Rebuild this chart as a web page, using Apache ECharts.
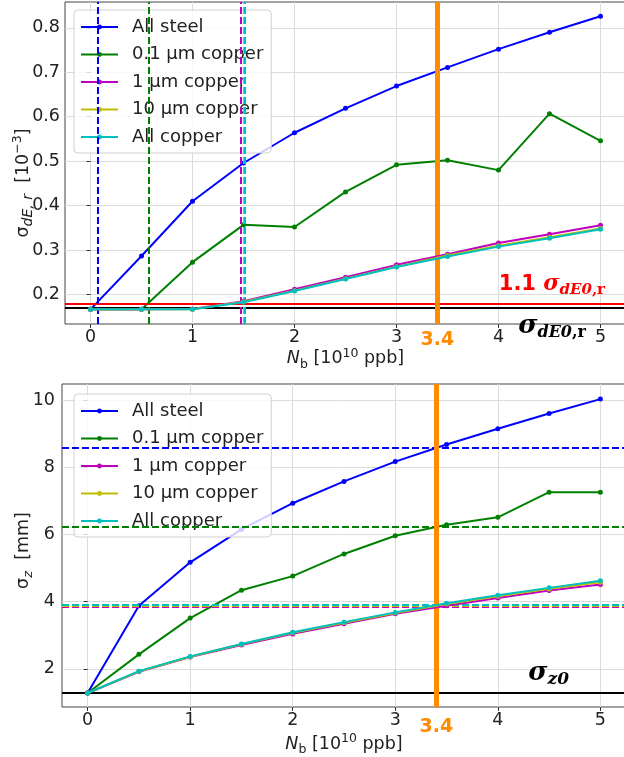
<!DOCTYPE html>
<html>
<head>
<meta charset="utf-8">
<script src="https://cdn.jsdelivr.net/npm/echarts@6/dist/echarts.min.js"></script>
<style>
  html, body { margin: 0; padding: 0; background: #fff; }
  #chart { width: 624px; height: 757px; }
</style>
</head>
<body>
<div id="chart"></div>
<script>
// bunch population N_b [1e10 ppb]
const nb = [0, 0.5, 1, 1.5, 2, 2.5, 3, 3.5, 4, 4.5, 5]
const names = ['All steel', '0.1 µm copper', '1 µm copper', '10 µm copper', 'All copper']
const colors = ['#0000ff', '#008000', '#bf00bf', '#bfbf00', '#00bfbf']

// top: energy spread [1e-3]
const steelDE = [0.167, 0.287, 0.410, 0.496, 0.564, 0.619, 0.669, 0.711, 0.752, 0.790, 0.826]
const cu01DE = [0.167, 0.167, 0.273, 0.357, 0.352, 0.431, 0.492, 0.502, 0.480, 0.607, 0.546]
const cu1DE = [0.167, 0.167, 0.168, 0.185, 0.212, 0.239, 0.267, 0.291, 0.316, 0.336, 0.356]
const cu10DE = [0.167, 0.167, 0.167, 0.184, 0.209, 0.236, 0.263, 0.288, 0.310, 0.329, 0.349]
const cuAllDE = [0.167, 0.167, 0.167, 0.183, 0.208, 0.235, 0.262, 0.286, 0.308, 0.327, 0.347]
const thrDE = [0.066, 0.575, 1.47, 1.50, 1.507] // where each curve crosses 1.1 sigma
const sigmaDE0 = 0.167
const sigmaDE0x11 = 0.1837

// bottom: bunch length [mm]
const steelZ = [1.28, 3.88, 5.17, 6.15, 6.93, 7.58, 8.17, 8.68, 9.15, 9.60, 10.03]
const cu01Z = [1.28, 2.43, 3.51, 4.34, 4.76, 5.42, 5.96, 6.29, 6.51, 7.26, 7.26]
const cu1Z = [1.28, 1.91, 2.35, 2.71, 3.04, 3.34, 3.64, 3.88, 4.11, 4.33, 4.51]
const cu10Z = [1.28, 1.92, 2.36, 2.73, 3.07, 3.37, 3.66, 3.93, 4.16, 4.38, 4.58]
const cuAllZ = [1.28, 1.93, 2.37, 2.74, 3.09, 3.39, 3.68, 3.95, 4.19, 4.41, 4.62]
const thrZ = [8.58, 6.24, 3.85, 3.88, 3.90] // sigma_z at N_b = 3.4
const sigmaZ0 = 1.28

const nbMark = 3.4
const xTicks = [0, 1, 2, 3, 4, 5]
const yTicksDE = [0.2, 0.3, 0.4, 0.5, 0.6, 0.7, 0.8]
const yTicksZ = [2, 4, 6, 8, 10]

const font = 'DejaVu Sans'
const serif = 'DejaVu Serif'
const gridColor = '#dcdcdc'
const fs = 17.5

const chart = echarts.init(document.getElementById('chart'), null, { renderer: 'canvas' })

const pairs = (ys) => nb.map((x, i) => [x, ys[i]])

const plain = { fontFamily: font, fontSize: fs, color: '#222', lineHeight: 24 }
const sub = { fontFamily: font, fontSize: 12.5, color: '#222', verticalAlign: 'bottom', lineHeight: 12 }
const sup = { fontFamily: font, fontSize: 12.5, color: '#222', verticalAlign: 'top', lineHeight: 12 }

const xAxisFor = (gridIndex, gap) => ({
  type: 'value',
  gridIndex,
  min: -0.25,
  max: 5.25,
  name: '{i|N}{b|b}{t| [10}{p|10}{t| ppb]}',
  nameLocation: 'middle',
  nameGap: gap,
  nameTextStyle: {
    rich: {
      i: Object.assign({}, plain, { fontStyle: 'italic' }),
      b: sub,
      t: plain,
      p: sup
    }
  },
  axisLine: { show: false },
  axisTick: { show: true, length: 4, customValues: xTicks, lineStyle: { color: '#333' } },
  axisLabel: { customValues: xTicks, fontFamily: font, fontSize: fs, color: '#222', margin: 4 },
  splitLine: { show: true, lineStyle: { color: gridColor, width: 1 } }
})

const yAxisFor = (gridIndex, min, max, ticks, name, rich, margin, pad, gap) => ({
  type: 'value',
  gridIndex,
  min,
  max,
  name,
  nameLocation: 'middle',
  nameGap: gap,
  nameMoveOverlap: false,
  nameRotate: 90,
  nameTextStyle: { rich, padding: pad },
  axisLine: { show: false },
  axisTick: { show: true, length: 4, customValues: ticks, lineStyle: { color: '#333' } },
  axisLabel: {
    customValues: ticks,
    fontFamily: font,
    fontSize: fs,
    color: '#222',
    margin,
    formatter: (v) => (Math.abs(v) < 1.5 ? v.toFixed(1) : String(v))
  },
  splitLine: { show: true, lineStyle: { color: gridColor, width: 1 } }
})

const dataSeries = (idx, ys, thr, vertical) => ({
  name: names[idx],
  type: 'line',
  xAxisIndex: vertical ? 0 : 1,
  yAxisIndex: vertical ? 0 : 1,
  data: pairs(ys),
  color: colors[idx],
  symbol: 'circle',
  symbolSize: 5,
  lineStyle: { width: 2 },
  z: 3 + idx,
  animation: false,
  markLine: {
    silent: true,
    symbol: ['none', 'none'],
    animation: false,
    label: { show: false },
    lineStyle: { color: colors[idx], type: [7, 3], width: 2 },
    data: [vertical ? { xAxis: thr[idx] } : { yAxis: thr[idx] }]
  }
})

const refLines = (axisIdx, lines) => ({
  type: 'line',
  xAxisIndex: axisIdx,
  yAxisIndex: axisIdx,
  data: [],
  z: 8,
  markLine: {
    silent: true,
    symbol: ['none', 'none'],
    animation: false,
    data: lines
  }
})

const bigSub = (main, s) => ({
  m: { fontFamily: serif, fontSize: main, fontWeight: 'bold', fontStyle: 'italic', lineHeight: main + 4 },
  d: { fontFamily: serif, fontSize: s, fontWeight: 'bold', fontStyle: 'italic', verticalAlign: 'bottom', lineHeight: s },
  r: { fontFamily: serif, fontSize: s, fontWeight: 'bold', verticalAlign: 'bottom', lineHeight: s },
  n: { fontFamily: font, fontSize: main - 1, fontWeight: 'bold', lineHeight: main + 4 }
})

const orangeLine = (dist) => ({
  xAxis: nbMark,
  lineStyle: { color: '#ff8c00', width: 5, type: 'solid' },
  label: {
    show: true,
    position: 'start',
    distance: dist,
    formatter: '3.4',
    color: '#ff8c00',
    fontFamily: font,
    fontWeight: 'bold',
    fontSize: 19
  }
})

const legendFor = (top) => ({
  data: names,
  orient: 'vertical',
  left: 74,
  top,
  padding: [7, 8, 6, 6],
  itemGap: 7.5,
  itemWidth: 37,
  itemHeight: 6,
  backgroundColor: 'rgba(255,255,255,0.8)',
  borderColor: '#d0d0d0',
  borderWidth: 1,
  borderRadius: 4,
  textStyle: { fontFamily: font, fontSize: 18, color: '#222', lineHeight: 20, padding: [0, 0, 0, 9] }
})

const gridBase = { show: true, borderColor: '#444', borderWidth: 1, backgroundColor: 'transparent', outerBoundsMode: 'none', containLabel: false }

const option = {
  animation: false,
  grid: [
    Object.assign({ left: 65, right: -2, top: 2, height: 322 }, gridBase),
    Object.assign({ left: 62, right: -2, top: 384, height: 323 }, gridBase)
  ],
  legend: [legendFor(10), legendFor(394)],
  xAxis: [xAxisFor(0, 21), xAxisFor(1, 25)],
  yAxis: [
    yAxisFor(0, 0.134, 0.858, yTicksDE, '{s|σ}{d|dE, r}{t|  [10}{p|−3}{t|]}', {
      s: plain,
      d: Object.assign({}, sub, { fontStyle: 'italic', fontSize: 14 }),
      t: plain,
      p: sup
    }, 5, [0, 40, 0, 0], 30),
    yAxisFor(1, 0.863, 10.48, yTicksZ, '{s|σ}{d|z}{t|  [mm]}', {
      s: plain,
      d: Object.assign({}, sub, { fontStyle: 'italic', fontSize: 13 }),
      t: plain
    }, 7, [0, 10, 0, 0], 27)
  ],
  series: [
    refLines(0, [
      {
        yAxis: sigmaDE0,
        lineStyle: { color: '#000', width: 2, type: 'solid' },
        label: {
          show: true,
          position: 'insideEndBottom',
          distance: [40, 3],
          formatter: '{m|σ}{d|dE0}{r|,r}',
          color: '#000',
          rich: bigSub(26, 16)
        }
      },
      {
        yAxis: sigmaDE0x11,
        lineStyle: { color: '#ff0000', width: 2, type: 'solid' },
        label: {
          show: true,
          position: 'insideEndTop',
          distance: [21, 6],
          formatter: '{n|1.1 }{m|σ}{d|dE0}{r|,r}',
          color: '#ff0000',
          rich: bigSub(22, 15)
        }
      }
    ]),
    refLines(1, [
      {
        yAxis: sigmaZ0,
        lineStyle: { color: '#000', width: 2, type: 'solid' },
        label: {
          show: true,
          position: 'insideEndTop',
          distance: [57, 5],
          formatter: '{m|σ}{d|z0}',
          color: '#000',
          rich: bigSub(26, 17)
        }
      }
    ]),
    dataSeries(0, steelDE, thrDE, true),
    dataSeries(1, cu01DE, thrDE, true),
    dataSeries(2, cu1DE, thrDE, true),
    dataSeries(3, cu10DE, thrDE, true),
    dataSeries(4, cuAllDE, thrDE, true),
    dataSeries(0, steelZ, thrZ, false),
    dataSeries(1, cu01Z, thrZ, false),
    dataSeries(2, cu1Z, thrZ, false),
    dataSeries(3, cu10Z, thrZ, false),
    dataSeries(4, cuAllZ, thrZ, false),
    Object.assign(refLines(0, [orangeLine(7)]), { z: 10 }),
    Object.assign(refLines(1, [orangeLine(11)]), { z: 10 })
  ]
}

chart.setOption(option)
window.addEventListener('resize', () => chart.resize())
</script>
</body>
</html>
